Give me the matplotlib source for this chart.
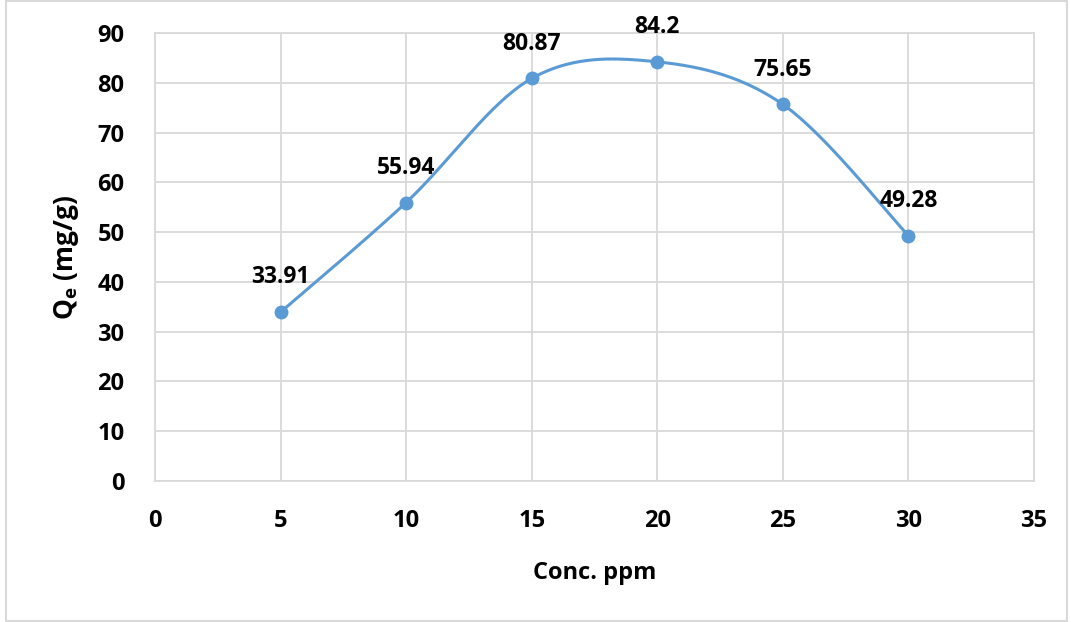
import matplotlib
matplotlib.use("Agg")
import matplotlib.pyplot as plt
import numpy as np

# data
conc = [5, 10, 15, 20, 25, 30]
qe = [33.91, 55.94, 80.87, 84.2, 75.65, 49.28]
qe_labels = ["33.91", "55.94", "80.87", "84.2", "75.65", "49.28"]
x_ticks = [0, 5, 10, 15, 20, 25, 30, 35]
y_ticks = [0, 10, 20, 30, 40, 50, 60, 70, 80, 90]

plt.rcParams['font.family'] = ['Open Sans', 'DejaVu Sans']
plt.rcParams['font.weight'] = 'bold'
plt.rcParams['mathtext.fontset'] = 'custom'
plt.rcParams['mathtext.rm'] = 'Open Sans:bold'
plt.rcParams['mathtext.it'] = 'Open Sans:bold'
plt.rcParams['mathtext.bf'] = 'Open Sans:bold'

blue = "#5B9BD5"
grid_c = "#D9D9D9"


def smooth_line(xs, ys, n=40):
    # excel style smoothed line: bezier segments with catmull-rom handles
    px = np.array(xs, dtype=float)
    py = np.array(ys, dtype=float)
    px = np.concatenate([[px[0]], px, [px[-1]]])
    py = np.concatenate([[py[0]], py, [py[-1]]])
    t = np.linspace(0, 1, n)
    out_x, out_y = [], []
    for i in range(1, len(px) - 2):
        p0 = np.array([px[i], py[i]])
        p3 = np.array([px[i + 1], py[i + 1]])
        p1 = p0 + (p3 - np.array([px[i - 1], py[i - 1]])) / 6
        p2 = p3 - (np.array([px[i + 2], py[i + 2]]) - p0) / 6
        b = ((1 - t) ** 3)[:, None] * p0 + (3 * (1 - t) ** 2 * t)[:, None] * p1 \
            + (3 * (1 - t) * t ** 2)[:, None] * p2 + (t ** 3)[:, None] * p3
        out_x.extend(b[:, 0])
        out_y.extend(b[:, 1])
    return out_x, out_y


fig = plt.figure(figsize=(10.71, 6.22), dpi=100)
ax = fig.add_axes([0.1447, 0.2267, 0.8208, 0.7203])

sx, sy = smooth_line(conc, qe)
ax.plot(sx, sy, color=blue, linewidth=2.2, zorder=3)
ax.plot(conc, qe, 'o', color=blue, markersize=9, zorder=4)

for x, y, lab in zip(conc, qe, qe_labels):
    ax.annotate(lab, (x, y), xytext=(0, 25), textcoords='offset points',
                ha='center', va='center', fontsize=16.5, fontweight='bold')

ax.set_xlim(0, 35)
ax.set_ylim(0, 90)
ax.set_xticks(x_ticks)
ax.set_yticks(y_ticks)
ax.grid(True, color=grid_c, linewidth=1.3)
ax.set_axisbelow(True)
for s in ax.spines.values():
    s.set_color(grid_c)
    s.set_linewidth(1.3)
ax.tick_params(length=0, labelsize=17, pad=20)
ax.tick_params(axis='y', pad=22)
for lab in ax.get_xticklabels() + ax.get_yticklabels():
    lab.set_fontweight('bold')

ax.set_xlabel("Conc. ppm", fontsize=17, fontweight='bold', labelpad=20)
ax.set_ylabel("Q$_{\\mathrm{e}}$ (mg/g)", fontsize=19, fontweight='bold', labelpad=12)

# light border around the whole chart
fig.patches.append(plt.Rectangle((0.006, 0.002), 0.99, 0.996, transform=fig.transFigure,
                                 fill=False, edgecolor=grid_c, linewidth=1.5))

fig.savefig("out.png", dpi=100)
